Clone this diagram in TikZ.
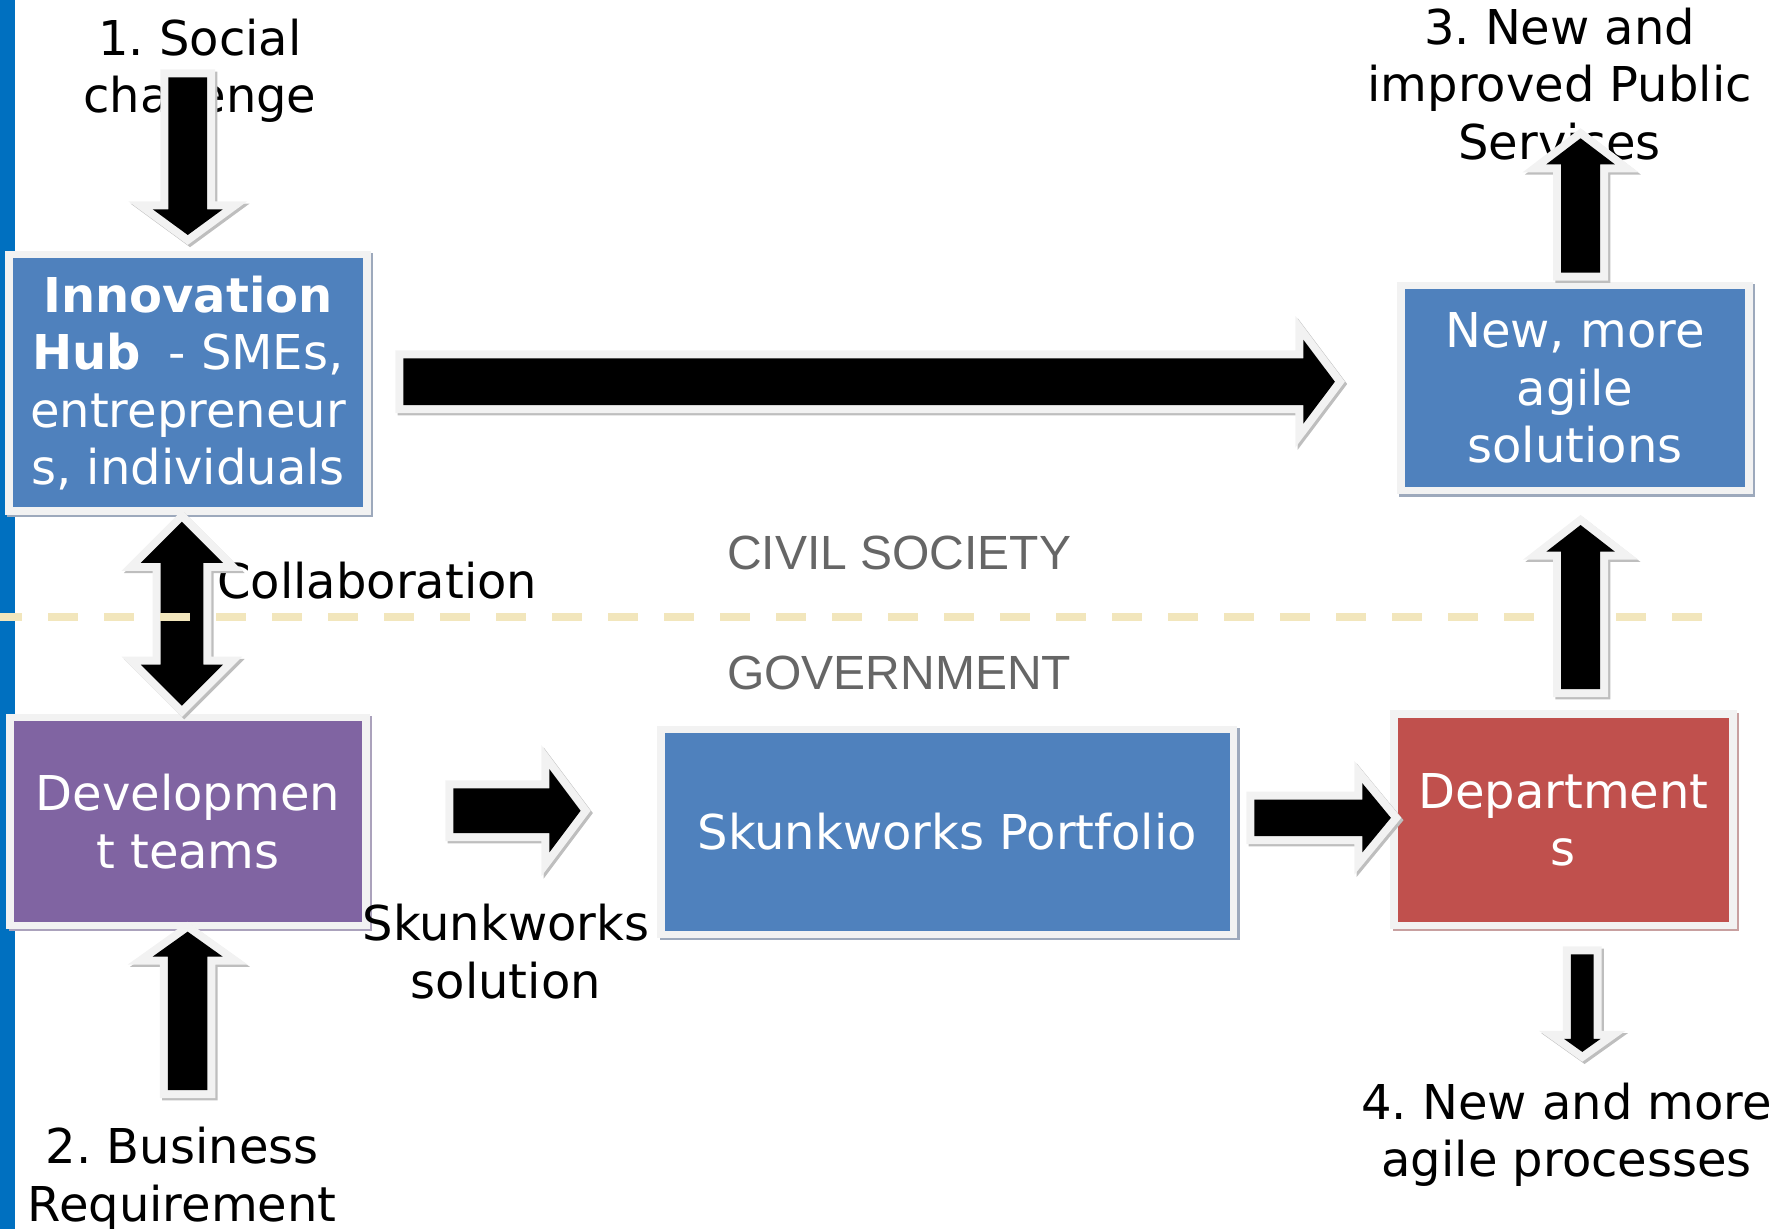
\documentclass[tikz,border=0pt]{standalone}
\usepackage{fontspec}
\setmainfont{DejaVu Sans}
\newfontfamily\arialfont{Liberation Sans}
\usetikzlibrary{calc}
\frenchspacing
\definecolor{hubblue}{HTML}{4F81BD}
\definecolor{devpurple}{HTML}{8064A2}
\definecolor{deptred}{HTML}{C0504D}
\definecolor{boxborder}{HTML}{F2F2F2}
\definecolor{blueshadow}{HTML}{9DA9BC}
\definecolor{purpleshadow}{HTML}{ABA2BC}
\definecolor{redshadow}{HTML}{C8A0A0}
\definecolor{arrowshadow}{HTML}{BEBEBE}
\definecolor{barblue}{HTML}{0070C0}
\definecolor{dashbeige}{HTML}{F2E6BC}
\definecolor{labelgray}{HTML}{666666}
\newcommand\bigfont{\fontsize{42}{50.3}\selectfont}
\newcommand\blockarrow[5]{%
  \coordinate (bxh) at ($(#2)!#5pt!(#1)$);
  \path[blockarrowsty] ($(#1)!#3pt!90:(#2)$) -- ($(bxh)!#3pt!-90:(#1)$) -- ($(bxh)!#4pt!-90:(#1)$) -- (#2) -- ($(bxh)!#4pt!90:(#1)$) -- ($(bxh)!#3pt!90:(#1)$) -- ($(#1)!#3pt!-90:(#2)$) -- cycle;}
\newcommand\doubleblockarrow[5]{%
  \coordinate (bxa) at ($(#1)!#5pt!(#2)$);
  \coordinate (bxb) at ($(#2)!#5pt!(#1)$);
  \path[blockarrowsty] (#1) -- ($(bxa)!#4pt!90:(#2)$) -- ($(bxa)!#3pt!90:(#2)$) -- ($(bxb)!#3pt!-90:(#1)$) -- ($(bxb)!#4pt!-90:(#1)$) -- (#2) -- ($(bxb)!#4pt!90:(#1)$) -- ($(bxb)!#3pt!90:(#1)$) -- ($(bxa)!#3pt!-90:(#2)$) -- ($(bxa)!#4pt!-90:(#2)$) -- cycle;}
\tikzset{
  blockarrowsty/.style={fill=black, line join=miter,
    preaction={draw=arrowshadow, line width=14pt, line join=miter, transform canvas={xshift=2pt,yshift=-2pt}},
    preaction={draw=boxborder, line width=14pt, line join=miter}},
  box/.style 2 args={fill=#1, draw=boxborder, line width=6.5pt,
    preaction={draw=#2, line width=6.5pt, transform canvas={xshift=2pt,yshift=-2pt}},
    text=white, font=\bigfont, align=center, inner sep=0pt, outer sep=0pt},
  lbl/.style={font=\bigfont, align=center, inner sep=0pt, text=black},
  grouplbl/.style={font=\arialfont\fontsize{42}{50}\selectfont, inner sep=0pt, text=labelgray},
}
\begin{document}
\begin{tikzpicture}[x=1pt,y=-1pt]
\useasboundingbox (0,0) rectangle (1568,1075);
\clip (0,0) rectangle (1568,1075);
\fill[barblue] (0,0) rectangle (13,1075);

% boxes
\node[box={hubblue}{blueshadow}, minimum width=313.5pt, minimum height=224.5pt] (hub) at (164.5,335)
  {\textbf{Innovation}\\\textbf{Hub}\hspace{24pt}- SMEs,\\entrepreneur\\s, individuals};
\node[box={devpurple}{purpleshadow}, minimum width=311.5pt, minimum height=182pt] (dev) at (164.5,718.75)
  {Developmen\\t teams};
\node[box={hubblue}{blueshadow}, minimum width=304.5pt, minimum height=179.5pt] (agile) at (1378,339.5)
  {New, more\\agile\\solutions};
\node[box={hubblue}{blueshadow}, minimum width=500.8pt, minimum height=179.3pt] (portfolio) at (828.9,728)
  {Skunkworks Portfolio};
\node[box={deptred}{redshadow}, minimum width=296.5pt, minimum height=184.9pt] (dept) at (1368,717.2)
  {Department\\s};

% labels
\node[lbl] (social) at (175,61.9) {1. Social\\challenge};
\node[lbl] (services) at (1364.7,73.5) {3. New and\\improved Public\\Services};
\node[lbl, anchor=base west] (collab) at (190,524) {Collaboration};
\node[grouplbl, anchor=base west] (civil) at (636,498) {CIVIL SOCIETY};
\node[grouplbl, anchor=base west] (gov) at (636,603) {GOVERNMENT};
\node[lbl] (sksol) at (442.6,832.8) {Skunkworks\\solution};
\node[lbl] (business) at (159.5,1031.7) {2. Business\\Requirement};
\node[lbl] (processes) at (1370.8,993) {4. New and more\\agile processes};

% arrow end points
\coordinate (a1s) at (164.3,67.7);   \coordinate (a1e) at (164.3,205.6);
\coordinate (a2s) at (164.2,953.8);  \coordinate (a2e) at (164.2,815.2);
\coordinate (lgs) at (353,334);      \coordinate (lge) at (1168,334);
\coordinate (a3s) at (1383,238.6);   \coordinate (a3e) at (1383,121);
\coordinate (a5s) at (1383,603);     \coordinate (a5e) at (1383,459.4);
\coordinate (cla) at (159.2,456.5);  \coordinate (clb) at (159.2,617.5);
\coordinate (sss) at (396.7,709.4);  \coordinate (sse) at (508,709.4);
\coordinate (sds) at (1097.5,715.6); \coordinate (sde) at (1217,715.6);
\coordinate (a4s) at (1384.5,835);   \coordinate (a4e) at (1384.5,920.4);

\blockarrow{a1s}{a1e}{17}{30.6}{22.4}
\blockarrow{a2s}{a2e}{17.3}{30.6}{21.8}
\blockarrow{lgs}{lge}{20.4}{36.7}{27.6}
\blockarrow{a3s}{a3e}{17}{30}{22.8}
\blockarrow{sss}{sse}{19.6}{36.4}{27.3}
\blockarrow{sds}{sde}{16}{30.3}{25}
\blockarrow{a4s}{a4e}{9.9}{16}{11.4}
\doubleblockarrow{cla}{clb}{18.7}{36}{36}

% divider
\draw[dashbeige, line width=7pt, dash pattern=on 26.5pt off 22.5pt] (-7,540) -- (1490,540);

\blockarrow{a5s}{a5e}{17}{30}{23.3}
\end{tikzpicture}
\end{document}
